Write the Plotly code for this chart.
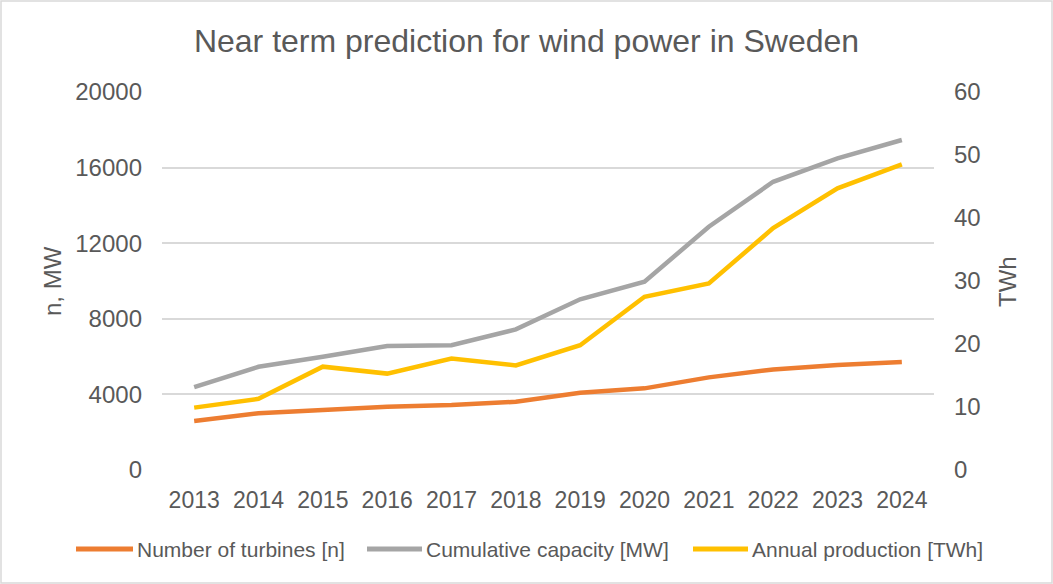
import plotly.graph_objects as go

years = ["2013", "2014", "2015", "2016", "2017", "2018", "2019", "2020", "2021", "2022", "2023", "2024"]
turbines = [2590, 3000, 3170, 3350, 3440, 3610, 4090, 4320, 4900, 5320, 5550, 5710]
capacity = [4380, 5460, 5990, 6560, 6600, 7440, 9030, 9960, 12870, 15250, 16490, 17460]
production = [9.9, 11.3, 16.4, 15.3, 17.7, 16.6, 19.8, 27.5, 29.6, 38.4, 44.7, 48.5]

left_ticks = [0, 4000, 8000, 12000, 16000, 20000]
right_ticks = [0, 10, 20, 30, 40, 50, 60]

series_names = ["Number of turbines [n]", "Cumulative capacity [MW]", "Annual production [TWh]"]
series_colors = ["#ED7D31", "#A5A5A5", "#FFC000"]

TXT = "#595959"
FONT = "Liberation Sans, Arial, sans-serif"

W, H = 1053, 584
L, R, T, B = 162, 119, 92, 114
pw, ph = W - L - R, H - T - B


def px_x(x):
    return (x - L) / pw


def px_y(y):
    return (H - B - y) / ph


fig = go.Figure()
fig.add_trace(go.Scatter(x=years, y=turbines, mode="lines", name=series_names[0],
                         line=dict(color=series_colors[0], width=4.5)))
fig.add_trace(go.Scatter(x=years, y=capacity, mode="lines", name=series_names[1],
                         line=dict(color=series_colors[1], width=4.5)))
fig.add_trace(go.Scatter(x=years, y=production, mode="lines", name=series_names[2],
                         line=dict(color=series_colors[2], width=4.5), yaxis="y2"))

# custom legend (line sample + label) positioned like the reference
legend_line_x = [(76, 133), (367, 422), (693, 748)]
legend_y = 549
shapes = [
    dict(type="rect", xref="paper", yref="paper", x0=px_x(1), x1=px_x(1052),
         y0=px_y(583), y1=px_y(1), line=dict(color="#D9D9D9", width=1.5), layer="below"),
]
annotations = [
    dict(text="n, MW", xref="paper", yref="paper", x=px_x(52), y=px_y(281), showarrow=False,
         textangle=-90, font=dict(size=24, color=TXT), xanchor="center", yanchor="middle"),
    dict(text="TWh", xref="paper", yref="paper", x=px_x(1007), y=px_y(281), showarrow=False,
         textangle=-90, font=dict(size=24, color=TXT), xanchor="center", yanchor="middle"),
]
for (x0, x1), name, col in zip(legend_line_x, series_names, series_colors):
    shapes.append(dict(type="line", xref="paper", yref="paper", x0=px_x(x0), x1=px_x(x1),
                       y0=px_y(legend_y), y1=px_y(legend_y), line=dict(color=col, width=5)))
    annotations.append(dict(text=name, xref="paper", yref="paper", x=px_x(x1 + 2), y=px_y(legend_y),
                            showarrow=False, xanchor="left", yanchor="middle",
                            font=dict(size=21, color=TXT)))

fig.update_layout(
    width=W, height=H,
    margin=dict(l=L, r=R, t=T, b=B, autoexpand=False),
    paper_bgcolor="white", plot_bgcolor="white",
    font=dict(family=FONT, color=TXT),
    showlegend=False,
    title=dict(text="Near term prediction for wind power in Sweden", x=0.5, xanchor="center",
               y=1 - 41 / H, yanchor="middle", font=dict(size=32, color=TXT)),
    xaxis=dict(type="category", range=[-0.5, 11.5], showgrid=False, zeroline=False, showline=False,
               ticks="", tickfont=dict(size=23, color=TXT), ticklabelstandoff=14),
    yaxis=dict(range=[0, 20000], tickvals=left_ticks, ticktext=[str(v) for v in left_ticks],
               showgrid=True, gridcolor="#D9D9D9", gridwidth=1.5, zeroline=False, showline=False,
               ticks="", tickfont=dict(size=24, color=TXT), ticklabelstandoff=19),
    yaxis2=dict(range=[0, 60], tickvals=right_ticks, overlaying="y", side="right", showgrid=False,
                zeroline=False, showline=False, ticks="", tickfont=dict(size=24, color=TXT),
                ticklabelstandoff=19),
    annotations=annotations,
    shapes=shapes,
)

fig.write_html("out.html", config={"displayModeBar": False})

# remove the default page margin so the figure sits at the window origin
with open("out.html", "r", encoding="utf-8") as f:
    html = f.read()
html = html.replace("<head>", "<head><style>html,body{margin:0;padding:0;overflow:hidden;}</style>", 1)
with open("out.html", "w", encoding="utf-8") as f:
    f.write(html)
